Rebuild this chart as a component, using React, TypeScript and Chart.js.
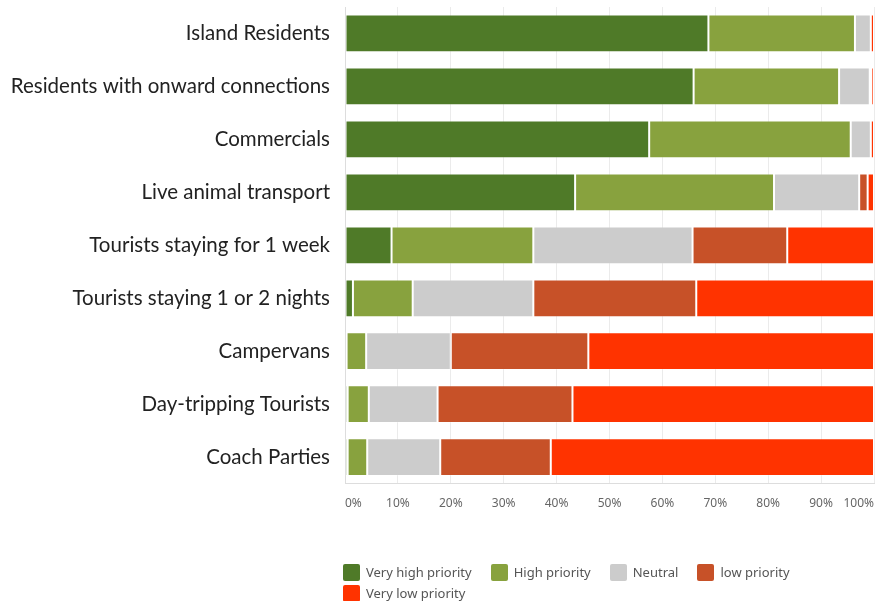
import React, { useEffect, useRef } from "react";
import { Chart, registerables } from "chart.js";

Chart.register(...registerables);

const categories = [
  "Island Residents",
  "Residents with onward connections",
  "Commercials",
  "Live animal transport",
  "Tourists staying for 1 week",
  "Tourists staying 1 or 2 nights",
  "Campervans",
  "Day-tripping Tourists",
  "Coach Parties",
];

const seriesNames = ["Very high priority", "High priority", "Neutral", "low priority", "Very low priority"];
const seriesColors = ["#4f7a28", "#88a23e", "#cccccc", "#c75128", "#ff3300"];

const veryHigh = [68.7, 65.9, 57.5, 43.5, 8.8, 1.5, 0.3, 0.5, 0.5];
const high = [27.7, 27.5, 38.1, 37.6, 26.8, 11.3, 3.7, 4.0, 3.7];
const neutral = [3.0, 5.8, 3.8, 16.1, 30.1, 22.8, 16.0, 13.0, 13.8];
const low = [null, 0.3, null, 1.6, 17.9, 30.8, 26.0, 25.5, 20.9];
const veryLow = [0.6, 0.5, 0.6, 1.2, 16.4, 33.6, 54.0, 57.0, 61.1];

const xTicks = [0, 10, 20, 30, 40, 50, 60, 70, 80, 90, 100];

export default function App() {
  const canvasRef = useRef<HTMLCanvasElement | null>(null);

  useEffect(() => {
    document.body.style.margin = "0";
    const canvas = canvasRef.current;
    if (!canvas) return;
    const allSeries = [veryHigh, high, neutral, low, veryLow];
    const chart = new Chart(canvas, {
      type: "bar",
      data: {
        labels: categories,
        datasets: allSeries.map((d, i) => ({
          label: seriesNames[i],
          data: d as any,
          backgroundColor: seriesColors[i],
          borderColor: "rgba(255,255,255,0.25)",
          borderWidth: 1,
          borderSkipped: false,
          categoryPercentage: 1,
          barPercentage: 0.713,
        })),
      },
      options: {
        indexAxis: "y",
        responsive: false,
        animation: false,
        maintainAspectRatio: false,
        layout: { padding: { left: 0, right: 18, top: 7, bottom: 77 } },
        plugins: {
          legend: { display: false },
          tooltip: { enabled: false },
          title: { display: false },
        },
        scales: {
          x: {
            stacked: true,
            min: 0,
            max: 100,
            afterBuildTicks: (scale: any) => {
              scale.ticks = xTicks.map((v) => ({ value: v }));
            },
            afterFit: (scale: any) => {
              scale.paddingLeft = 0;
              scale.paddingRight = 0;
            },
            ticks: {
              align: "inner",
              padding: 13,
              color: "#666666",
              font: { family: "'Noto Sans', sans-serif", size: 12 },
              callback: (v: any) => v + "%",
            },
            grid: { color: "#ebebeb", drawTicks: false, lineWidth: 1 },
            border: { color: "#dddddd" },
          },
          y: {
            stacked: true,
            afterFit: (scale: any) => {
              scale.width = 345;
              scale.paddingTop = 0;
              scale.paddingBottom = 0;
            },
            ticks: {
              padding: 15,
              color: "#222222",
              font: { family: "Lato, 'Open Sans', sans-serif", size: 20.5 },
            },
            grid: { display: false, drawTicks: false },
            border: { color: "#dddddd" },
          },
        },
      },
    });
    return () => chart.destroy();
  }, []);

  return (
    <div style={{ position: "relative", width: 892, height: 601, overflow: "hidden", background: "#fff" }}>
      <canvas ref={canvasRef} width={892} height={601} style={{ display: "block" }} />
      <div
        style={{
          position: "absolute",
          left: 343,
          top: 564,
          width: 520,
          display: "flex",
          flexWrap: "wrap",
          columnGap: 19,
          rowGap: 4,
          fontFamily: "'Noto Sans', sans-serif",
          fontSize: 13,
          color: "#555555",
          lineHeight: "17px",
        }}
      >
        {seriesNames.map((n, i) => (
          <div key={n} style={{ display: "flex", alignItems: "center" }}>
            <span
              style={{
                display: "inline-block",
                width: 17,
                height: 17,
                borderRadius: 2,
                background: seriesColors[i],
                marginRight: 6,
              }}
            />
            <span>{n}</span>
          </div>
        ))}
      </div>
    </div>
  );
}
